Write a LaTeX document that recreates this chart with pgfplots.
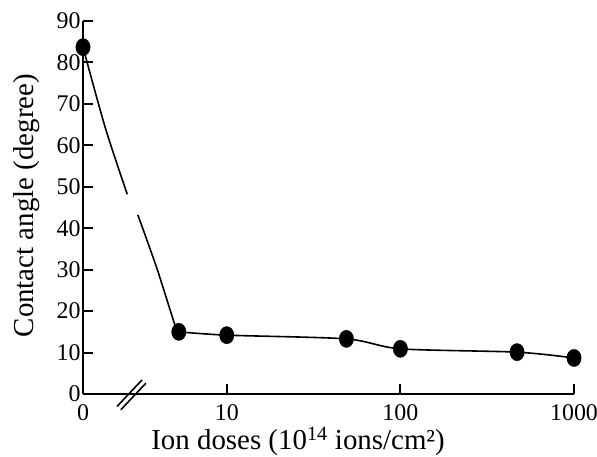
\documentclass[border=0pt]{standalone}
\usepackage{pgfplots}
\pgfplotsset{compat=1.18}
\usepackage{fontspec}
\setmainfont{Liberation Serif}
\pgfdeclareplotmark{vellipse}{%
  \pgfpathellipse{\pgfpointorigin}{\pgfpoint{7.2bp}{0pt}}{\pgfpoint{0pt}{8.6bp}}%
  \pgfusepathqfillstroke}
\begin{document}
\begin{tikzpicture}
\path[use as bounding box] (0,0) rectangle (597bp,-457bp);
\begin{axis}[
  at={(83bp,-394bp)}, anchor=south west,
  scale only axis, width=491bp, height=373bp,
  xmin=0, xmax=2.828, ymin=0, ymax=90,
  axis lines=left,
  axis line style={-, line width=2bp},
  clip=false,
  xtick={0,0.828,1.828,2.828},
  xticklabels={0,10,100,1000},
  ytick={0,10,...,90},
  tick align=inside,
  major tick length=10bp,
  tick style={line width=2bp, black},
  /pgf/number format/assume math mode=true,
  ticklabel style={font=\fontsize{24}{25}\selectfont},
  xticklabel style={yshift=-7bp},
  yticklabel style={xshift=1bp},
  xlabel={Ion doses (10\textsuperscript{14} ions/cm²)},
  ylabel={Contact angle (degree)},
  label style={font=\fontsize{29}{30}\selectfont},
  xlabel style={at={(axis description cs:0.438,-0.148)}, anchor=base},
  ylabel style={at={(axis description cs:-0.114,0.505)}, anchor=center},
]
% curve, first part (before the axis break)
\addplot[black, line width=1.6bp, smooth, tension=0.5] coordinates {
  (0,83.7) (0.128,64.3) (0.255,48.2)};
% curve, after the axis break
\addplot[black, line width=1.6bp, smooth, tension=0.4] coordinates {
  (0.316,43.2) (0.425,30.4) (0.530,16.6) (0.552,15.0)};
\addplot[black, line width=1.6bp, smooth, tension=0.45] coordinates {
  (0.552,15.0) (0.828,14.2) (1.517,13.3) (1.828,10.9) (2.5,10.1) (2.828,8.7)};
% data points
\addplot[only marks, mark=vellipse, black, mark options={fill=black}] coordinates {
  (0,83.7) (0.552,15.0) (0.828,14.2) (1.517,13.3) (1.828,10.9) (2.5,10.1) (2.828,8.7)};
% axis break mark
\draw[line width=1.6bp] (axis cs:0.196,-3.0) -- (axis cs:0.340,3.4);
\draw[line width=1.6bp] (axis cs:0.218,-3.8) -- (axis cs:0.362,2.6);
\end{axis}
\end{tikzpicture}
\end{document}
